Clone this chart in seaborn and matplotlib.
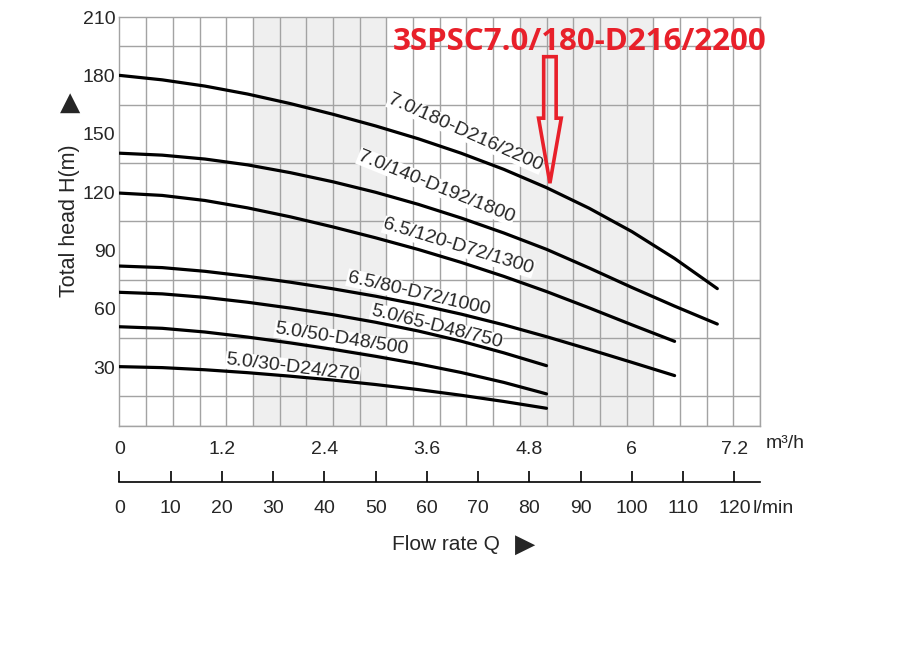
import numpy as np
import pandas as pd
import matplotlib
matplotlib.use("Agg")
import matplotlib.pyplot as plt
from matplotlib.patches import FancyArrow
import seaborn as sns

# ---------------- data ----------------
models = ["7.0/180-D216/2200", "7.0/140-D192/1800", "6.5/120-D72/1300",
          "6.5/80-D72/1000", "5.0/65-D48/750", "5.0/50-D48/500", "5.0/30-D24/270"]

q_70 = [0, 0.5, 1.0, 1.5, 2.0, 2.5, 3.0, 3.5, 4.0, 4.5, 5.0, 5.5, 6.0, 6.5, 7.0]
q_65 = [0, 0.5, 1.0, 1.5, 2.0, 2.5, 3.0, 3.5, 4.0, 4.5, 5.0, 5.5, 6.0, 6.5]
q_50 = [0, 0.5, 1.0, 1.5, 2.0, 2.5, 3.0, 3.5, 4.0, 4.5, 5.0]

h_180 = [180, 177.7, 174.5, 170.4, 165.5, 160, 154, 147.4, 140, 131.7, 122.3, 111.7, 99.7, 85.9, 70.4]
h_140 = [140, 139, 137, 134, 130, 125.3, 119.9, 113.7, 106.7, 99, 90.6, 81, 71, 61.4, 52.2]
h_120 = [119.5, 118.3, 115.7, 111.9, 107.3, 102.1, 96.5, 90.5, 83.9, 76.7, 68.9, 60.5, 51.8, 43.3]
h_80 = [82, 81.2, 79.3, 76.7, 73.7, 70.3, 66.5, 62.2, 57.3, 51.8, 45.7, 39.2, 32.5, 25.7]
h_65 = [68.5, 67.7, 65.9, 63.4, 60.4, 57, 53.1, 48.6, 43.4, 37.4, 30.8]
h_50 = [50.8, 50, 48.1, 45.5, 42.5, 39.2, 35.6, 31.7, 27.3, 22.2, 16.3]
h_30 = [30.3, 29.8, 28.7, 27.2, 25.4, 23.4, 21.1, 18.5, 15.6, 12.4, 8.9]

flows = [q_70, q_70, q_65, q_65, q_50, q_50, q_50]
heads = [h_180, h_140, h_120, h_80, h_65, h_50, h_30]

x_ticks_m3h = [0, 1.2, 2.4, 3.6, 4.8, 6, 7.2]
x_tick_labels_m3h = ["0", "1.2", "2.4", "3.6", "4.8", "6", "7.2"]
x_ticks_lmin = [0, 10, 20, 30, 40, 50, 60, 70, 80, 90, 100, 110, 120]
y_ticks = [30, 60, 90, 120, 150, 180, 210]

# label placement (flow, head, angle) for each curve name
label_q = [4.05, 3.71, 3.97, 3.50, 3.71, 2.60, 2.03]
label_h = [150.6, 122.8, 91.8, 67.9, 50.6, 44.3, 29.6]
label_rot = [-24, -22, -17, -13, -14, -9, -7]

title_text = "3SPSC7.0/180-D216/2200"
arrow_q = 5.04
arrow_top = 189.6
arrow_tip = 124.6

rows = []
for m, qs, hs in zip(models, flows, heads):
    for q, h in zip(qs, hs):
        rows.append((m, q, h))
df = pd.DataFrame(rows, columns=["model", "Q", "H"])

# ---------------- style ----------------
sns.set_style("white")
plt.rcParams["font.family"] = ["Liberation Sans", "DejaVu Sans"]

XMAX, YMAX = 7.5, 210
GRID = "#a3a3a3"
RED = "#e8202a"

fig = plt.figure(figsize=(9.07, 6.57), dpi=100)
ax = fig.add_axes([119.5 / 907, 1 - 425.6 / 657, 640.5 / 907, 408.6 / 657])
ax.set_xlim(0, XMAX)
ax.set_ylim(0, YMAX)

step = XMAX / 24
for c0, c1 in [(5, 10), (15, 20)]:
    ax.axvspan(c0 * step, c1 * step, color="#efefef", zorder=0, lw=0)

ax.set_xticks(np.linspace(0, XMAX, 25), minor=True)
ax.set_yticks(np.arange(0, YMAX + 1, 15), minor=True)
ax.set_xticks(x_ticks_m3h)
ax.set_xticklabels(x_tick_labels_m3h)
ax.set_yticks(y_ticks)
ax.set_yticklabels([str(v) for v in y_ticks])
ax.grid(False)
ax.grid(True, which="minor", color=GRID, lw=1.0, zorder=1)
ax.set_axisbelow(True)
ax.tick_params(which="both", length=0)
ax.tick_params(axis="x", which="major", labelsize=14, pad=11)
ax.tick_params(axis="y", which="major", labelsize=14, pad=3)
for s in ax.spines.values():
    s.set_color(GRID)
    s.set_linewidth(1.0)

sns.lineplot(data=df, x="Q", y="H", hue="model", palette=["black"] * len(models),
             legend=False, sort=False, estimator=None, linewidth=2.3, ax=ax, zorder=3)
ax.set_xlabel("")
ax.set_ylabel("")

for m, q, h, r in zip(models, label_q, label_h, label_rot):
    ax.text(q, h, m, rotation=r, rotation_mode="anchor", ha="center", va="center",
            fontsize=14, zorder=2.5,
            bbox=dict(facecolor="white", edgecolor="none", pad=0.3))

# red annotation
ax.add_patch(FancyArrow(arrow_q, arrow_top, 0, arrow_tip - arrow_top, width=0.146,
                        head_width=0.266, head_length=33.4, length_includes_head=True,
                        fill=False, ec=RED, lw=2.6, zorder=6))
fig.text(580 / 907, 1 - 42.5 / 657, title_text, color=RED, fontsize=22.5,
         fontweight="bold", family=["Open Sans", "DejaVu Sans"], ha="center", va="center")

# secondary l/min axis
sec = ax.secondary_xaxis((425.6 - 481.7) / 408.6, functions=(lambda x: x * 1000 / 60,
                                                             lambda x: x * 60 / 1000))
sec.set_xticks(x_ticks_lmin)
sec.set_xticklabels([str(v) for v in x_ticks_lmin])
sec.tick_params(direction="in", length=8, width=1.2, labelsize=14, pad=13, color="black")
sec.spines["bottom"].set_color("black")
sec.spines["bottom"].set_linewidth(1.2)

# axis texts
ax.text(1.0094, -0.0426, "m³/h", transform=ax.transAxes, fontsize=14, ha="left", va="center")
ax.text(0.989, -0.2017, "l/min", transform=ax.transAxes, fontsize=14, ha="left", va="center")
ax.text(0.425, -0.2922, "Flow rate Q", transform=ax.transAxes, fontsize=15, ha="left", va="center")
ax.text(0.633, -0.2922, "▶", transform=ax.transAxes, fontsize=19, ha="center", va="center",
        family=["DejaVu Sans"])
ax.text(-0.0773, 0.5007, "Total head H(m)", transform=ax.transAxes, fontsize=15.5,
        rotation=90, ha="center", va="center")
ax.text(-0.0773, 0.7888, "▲", transform=ax.transAxes, fontsize=19, ha="center", va="center",
        family=["DejaVu Sans"])

fig.savefig("out.png", dpi=100)
